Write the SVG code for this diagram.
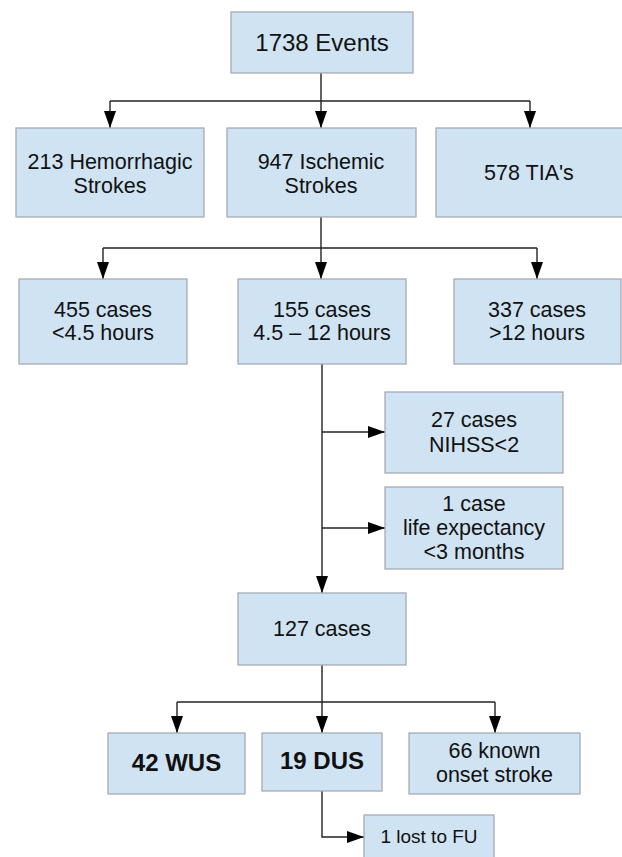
<svg xmlns="http://www.w3.org/2000/svg" width="622" height="857" viewBox="0 0 622 857">
<defs>
<marker id="ah" markerUnits="userSpaceOnUse" markerWidth="17" markerHeight="12" refX="17" refY="6" orient="auto">
<path d="M0,0 L17,6 L0,12 z" fill="#000"/>
</marker>
</defs>
<style>
.box{fill:#cfe3f3;stroke:#a3acb4;stroke-width:1.3}
.t{font-family:"Liberation Sans",Arial,sans-serif;font-size:21.5px;fill:#111;text-anchor:middle}
.big{font-size:24px}
.b{font-size:24px;font-weight:bold}
.s{font-size:19px}
.c{fill:none;stroke:#222;stroke-width:1.4}
</style>
<rect width="622" height="857" fill="#fff"/>
<g id="connectors">
<path class="c" d="M321,73 V128" marker-end="url(#ah)"/>
<path class="c" d="M110,101 H530"/>
<path class="c" d="M110,101 V128" marker-end="url(#ah)"/>
<path class="c" d="M530,101 V128" marker-end="url(#ah)"/>
<path class="c" d="M321,217 V279" marker-end="url(#ah)"/>
<path class="c" d="M103,248 H537"/>
<path class="c" d="M103,248 V279" marker-end="url(#ah)"/>
<path class="c" d="M537,248 V279" marker-end="url(#ah)"/>
<path class="c" d="M322,364 V593" marker-end="url(#ah)"/>
<path class="c" d="M322,432 H385" marker-end="url(#ah)"/>
<path class="c" d="M322,528 H385" marker-end="url(#ah)"/>
<path class="c" d="M322,665 V733" marker-end="url(#ah)"/>
<path class="c" d="M177,702 H495"/>
<path class="c" d="M177,702 V733" marker-end="url(#ah)"/>
<path class="c" d="M495,702 V733" marker-end="url(#ah)"/>
<path class="c" d="M322,791 V837 H364" marker-end="url(#ah)"/>
</g>
<g id="events">
<rect class="box" x="231" y="12" width="182" height="61"/>
<text class="t big" x="322" y="51">1738 Events</text>
</g>
<g id="hemorrhagic">
<rect class="box" x="16" y="128" width="188" height="89"/>
<text class="t" x="110" y="169">213 Hemorrhagic</text>
<text class="t" x="110" y="193">Strokes</text>
</g>
<g id="ischemic">
<rect class="box" x="227" y="128" width="189" height="89"/>
<text class="t" x="321" y="169">947 Ischemic</text>
<text class="t" x="321" y="193">Strokes</text>
</g>
<g id="tia">
<rect class="box" x="436" y="128" width="190" height="89"/>
<text class="t" x="529" y="180">578 TIA's</text>
</g>
<g id="lt45">
<rect class="box" x="19" y="279" width="168" height="85"/>
<text class="t" x="103" y="317">455 cases</text>
<text class="t" x="103" y="340">&lt;4.5 hours</text>
</g>
<g id="h45to12">
<rect class="box" x="238" y="279" width="168" height="85"/>
<text class="t" x="322" y="317">155 cases</text>
<text class="t" x="322" y="340">4.5 – 12 hours</text>
</g>
<g id="gt12">
<rect class="box" x="454" y="279" width="167" height="85"/>
<text class="t" x="537" y="317">337 cases</text>
<text class="t" x="537" y="340">&gt;12 hours</text>
</g>
<g id="nihss">
<rect class="box" x="385" y="392" width="178" height="81"/>
<text class="t" x="474" y="427">27 cases</text>
<text class="t" x="474" y="452">NIHSS&lt;2</text>
</g>
<g id="life">
<rect class="box" x="385" y="487" width="178" height="82"/>
<text class="t" x="474" y="511">1 case</text>
<text class="t" x="474" y="535">life expectancy</text>
<text class="t" x="474" y="559">&lt;3 months</text>
</g>
<g id="c127">
<rect class="box" x="238" y="593" width="168" height="72"/>
<text class="t" x="322" y="636">127 cases</text>
</g>
<g id="wus">
<rect class="box" x="108" y="733" width="137" height="61"/>
<text class="t b" x="176.5" y="771">42 WUS</text>
</g>
<g id="dus">
<rect class="box" x="262" y="733" width="120" height="58"/>
<text class="t b" x="322" y="769">19 DUS</text>
</g>
<g id="known">
<rect class="box" x="409" y="733" width="171" height="61"/>
<text class="t" x="494.5" y="758">66 known</text>
<text class="t" x="494.5" y="782">onset stroke</text>
</g>
<g id="lost">
<rect class="box" x="364" y="815" width="130" height="60"/>
<text class="t s" x="429" y="843">1 lost to FU</text>
</g>
</svg>
